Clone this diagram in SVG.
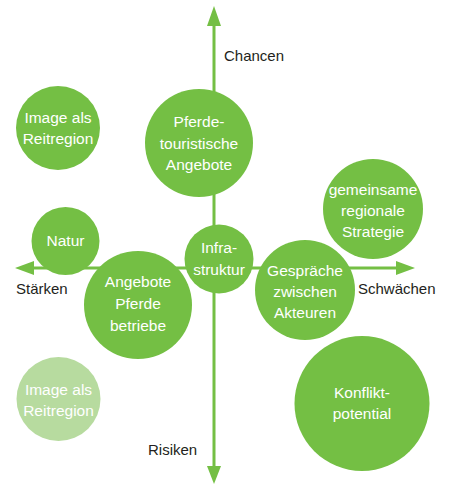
<svg xmlns="http://www.w3.org/2000/svg" width="451" height="484" viewBox="0 0 451 484">
<style>
.n{fill:#74BF44}
.l{fill:#B7DB9F}
.t{font-family:"Liberation Sans",Arial,sans-serif;font-size:15.5px;fill:#fff;text-anchor:middle}
.a{font-family:"Liberation Sans",Arial,sans-serif;font-size:15px;fill:#231F20}
.ax{stroke:#74BF44;stroke-width:3;fill:none}
.ah{fill:#74BF44}
</style>
<rect width="451" height="484" fill="#fff"/>
<g id="connectors">
<line class="ax" x1="214" y1="24" x2="214" y2="468"/>
<polygon class="ah" points="214,6 207,26 221,26"/>
<polygon class="ah" points="214,484 207,466 221,466"/>
<line class="ax" x1="32" y1="268" x2="397" y2="268"/>
<polygon class="ah" points="15,268 34,261 34,275"/>
<polygon class="ah" points="415,268 396,261 396,275"/>
</g>
<g id="labels">
<text class="a" x="224" y="61">Chancen</text>
<text class="a" x="16" y="294">Stärken</text>
<text class="a" x="358" y="294">Schwächen</text>
<text class="a" x="148" y="455">Risiken</text>
</g>
<g id="image1">
<circle class="n" cx="58" cy="128" r="42"/>
<text class="t" x="58" y="123">Image als</text>
<text class="t" x="58" y="144">Reitregion</text>
</g>
<g id="pferdetouristische">
<circle class="n" cx="199" cy="143" r="54"/>
<text class="t" x="199" y="127">Pferde-</text>
<text class="t" x="199" y="149">touristische</text>
<text class="t" x="199" y="170">Angebote</text>
</g>
<g id="strategie">
<circle class="n" cx="373" cy="209" r="50"/>
<text class="t" x="373" y="195">gemeinsame</text>
<text class="t" x="373" y="216">regionale</text>
<text class="t" x="373" y="237">Strategie</text>
</g>
<g id="natur">
<circle class="n" cx="65.5" cy="241" r="34"/>
<text class="t" x="65.5" y="246">Natur</text>
</g>
<g id="angebote">
<circle class="n" cx="138" cy="305" r="54"/>
<text class="t" x="138" y="287">Angebote</text>
<text class="t" x="138" y="309">Pferde</text>
<text class="t" x="138" y="331">betriebe</text>
</g>
<g id="infrastruktur">
<circle class="n" cx="219" cy="259" r="34.5"/>
<text class="t" x="219" y="253">Infra-</text>
<text class="t" x="219" y="275">struktur</text>
</g>
<g id="gespraeche">
<circle class="n" cx="305" cy="290" r="50"/>
<text class="t" x="305" y="276">Gespräche</text>
<text class="t" x="305" y="297">zwischen</text>
<text class="t" x="305" y="318">Akteuren</text>
</g>
<g id="image2">
<circle class="l" cx="58.5" cy="399" r="42"/>
<text class="t" x="58.5" y="395">Image als</text>
<text class="t" x="58.5" y="416">Reitregion</text>
</g>
<g id="konflikt">
<circle class="n" cx="362" cy="403.5" r="67.5"/>
<text class="t" x="362" y="398">Konflikt-</text>
<text class="t" x="362" y="419">potential</text>
</g>
</svg>
